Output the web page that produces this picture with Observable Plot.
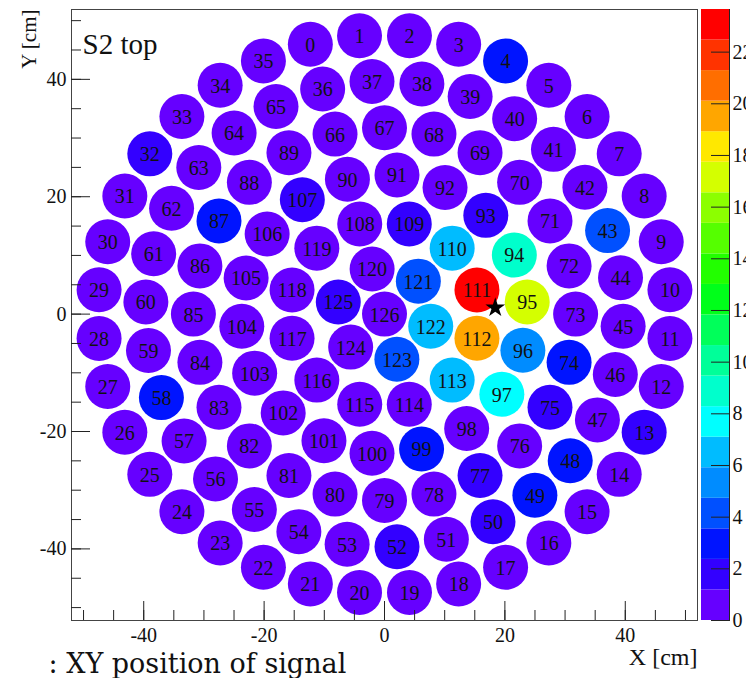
<!DOCTYPE html>
<html><head><meta charset="utf-8">
<script src="https://cdn.jsdelivr.net/npm/d3@7"></script>
<script src="https://cdn.jsdelivr.net/npm/@observablehq/plot@0.6"></script>
<style>
body{margin:0;background:#fff;}
#wrap{position:relative;width:746px;height:678px;overflow:hidden;background:#fff;}
#wrap svg{position:absolute;top:0;}
</style></head><body><div id="wrap"></div>
<script>
// PMT ring layout (outermost ring first), numbering clockwise from 105°
const ringCount = [36, 30, 24, 18, 12, 6, 1];
const ringRadius = [47.6, 39.7, 31.75, 23.8, 15.9, 7.95, 0];
const ringStartDeg = 105;

// signal per PMT, index = PMT number
const signal = [
  // 0-35
  0.5,0.5,0.5,0.6,3.1,0.5,0.4,0.4,0.4,0.4,0.4,0.4,0.5,1.9,0.5,0.4,0.4,0.4,
  0.4,0.5,0.5,0.4,0.4,0.3,0.3,0.3,0.3,0.3,0.3,0.3,0.3,0.4,1.7,0.4,0.4,0.5,
  // 36-65
  0.5,0.5,0.6,0.6,0.6,0.6,0.7,4.3,0.7,0.7,0.8,0.8,3.2,3.0,2.0,
  0.8,1.9,0.6,0.5,0.5,0.4,0.4,2.9,0.4,0.4,0.4,0.4,0.5,0.5,0.5,
  // 66-89
  0.7,0.7,0.8,0.9,0.9,1.0,1.0,1.0,3.2,2.1,1.0,2.0,
  0.8,0.8,0.6,0.6,0.5,0.5,0.5,0.5,0.5,2.8,0.6,0.6,
  // 90-107
  0.8,0.9,1.0,2.2,8.9,17.1,5.4,7.7,1.1,3.0,0.8,0.7,0.6,0.6,0.6,0.6,0.7,1.9,
  // 108-119
  1.0,2.2,6.6,23.2,19.6,6.4,1.1,0.9,0.8,0.7,0.7,0.8,
  // 120-125
  1.1,4.4,6.6,4.1,1.0,2.0,
  // 126
  1.1
];

const star = [{x: 18.4, y: 1.1}];
const xTicks = [-40, -20, 0, 20, 40];
const yTicks = [-40, -20, 0, 20, 40];
const minorTicks = [-50,-45,-40,-35,-30,-25,-20,-15,-10,-5,0,5,10,15,20,25,30,35,40,45,50];
const zTicks = [0, 2, 4, 6, 8, 10, 12, 14, 16, 18, 20, 22];
const zMax = 23.65;
const bandColors = [
  "#6600ff","#3300ff","#0014ff","#0050ff","#008cff","#00bcff","#00ffff","#00ffcc","#00ff99","#00ff5a",
  "#00ff1a","#22ff00","#55ff00","#8cff00","#d4ff00","#ffe800","#ffa600","#ff6e00","#ff3300","#ff0000"
];

const pmts = [];
let id = 0;
ringCount.forEach((n, k) => {
  for (let i = 0; i < n; i++) {
    const a = (ringStartDeg - i * 360 / n) * Math.PI / 180;
    pmts.push({id, x: ringRadius[k] * Math.cos(a), y: ringRadius[k] * Math.sin(a), z: signal[id]});
    id++;
  }
});

const nb = bandColors.length;
const thresholds = d3.range(1, nb).map(i => i * zMax / nb);
const colorScale = {type: "threshold", domain: thresholds, range: bandColors};
const bands = bandColors.map((c, i) => ({lo: i * zMax / nb, hi: (i + 1) * zMax / nb, mid: (i + 0.5) * zMax / nb}));

const serif = "'Liberation Serif', 'Times New Roman', serif";

const main = Plot.plot({
  width: 746, height: 678,
  marginLeft: 71, marginRight: 49, marginTop: 9, marginBottom: 58,
  x: {domain: [-52, 52]},
  y: {domain: [-52.2, 51.9]},
  color: colorScale,
  style: {fontFamily: serif, background: "transparent", color: "#111"},
  marks: [
    Plot.dot(pmts, {x: "x", y: "y", r: 22.5, fill: "z"}),
    Plot.text(pmts, {x: "x", y: "y", text: d => String(d.id), fontSize: 20, fill: "#111", dy: 1}),
    Plot.dot(star, {x: "x", y: "y", symbol: "star", r: 6.2, fill: "black"}),
    Plot.frame({stroke: "#444"}),
    Plot.axisX(xTicks, {anchor: "bottom", tickSize: -19, fill: "none", label: null, stroke: "#222"}),
    Plot.axisX(minorTicks, {anchor: "bottom", tickSize: -10, fill: "none", label: null, stroke: "#222"}),
    Plot.axisY(yTicks, {anchor: "left", tickSize: -19, fill: "none", label: null, stroke: "#222"}),
    Plot.axisY(minorTicks, {anchor: "left", tickSize: -10, fill: "none", label: null, stroke: "#222"}),
    Plot.axisX(xTicks, {anchor: "bottom", tickSize: 0, tickPadding: 7, fontSize: 20, label: null, tickFormat: d => String(d)}),
    Plot.axisY(yTicks, {anchor: "left", tickSize: 0, tickPadding: 5, fontSize: 20, label: null, tickFormat: d => String(d)}),
    Plot.text(["S2 top"], {frameAnchor: "top-left", dx: 11, dy: 24, textAnchor: "start", fontSize: 29, fill: "#111"}),
    Plot.text(["Y [cm]"], {frameAnchor: "top-left", dx: -50, dy: 0, rotate: -90, textAnchor: "end", fontSize: 21, fill: "#111"}),
    Plot.text(["X [cm]"], {frameAnchor: "bottom-right", dx: 0, dy: 44, textAnchor: "end", fontSize: 24, fill: "#111"}),
    Plot.text([": XY position of signal"], {frameAnchor: "bottom-left", dx: -23, dy: 52, textAnchor: "start", fontSize: 27, fontFamily: "'DejaVu Serif', serif", fill: "#111"})
  ]
});
main.style.left = "0px";

const bar = Plot.plot({
  width: 46, height: 678,
  marginLeft: 1, marginRight: 17, marginTop: 9, marginBottom: 58,
  x: {domain: [0, 1], axis: null},
  y: {domain: [0, zMax], axis: null},
  color: colorScale,
  style: {fontFamily: serif, background: "transparent", color: "#111", overflow: "visible"},
  marks: [
    Plot.rect(bands, {x1: 0, x2: 1, y1: "lo", y2: "hi", fill: "mid"}),
    Plot.ruleX([1], {stroke: "#222"}),
    Plot.axisY(zTicks, {anchor: "right", tickSize: -19, fill: "none", label: null, stroke: "#222"}),
    Plot.axisY(zTicks, {anchor: "right", tickSize: 0, tickPadding: 3, fontSize: 20, label: null, tickFormat: d => String(d)})
  ]
});
bar.style.left = "700px";

const wrap = document.getElementById("wrap");
wrap.appendChild(main);
wrap.appendChild(bar);
</script></body></html>
